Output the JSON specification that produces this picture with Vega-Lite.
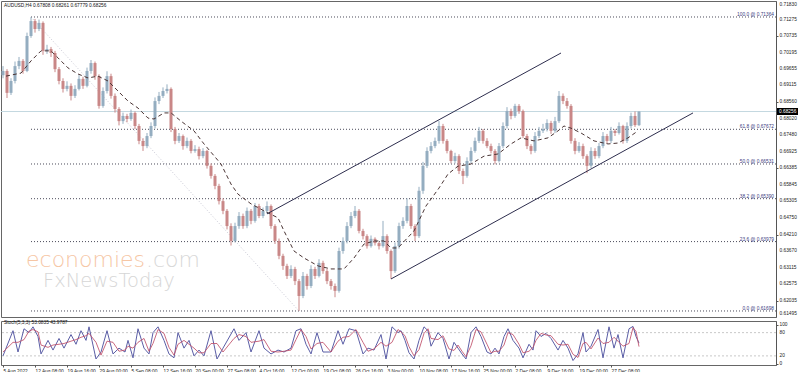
{
"$schema": "https://vega.github.io/schema/vega-lite/v6.json",
"padding": 0,
"background": "#ffffff",
"spacing": 1,
"config": {
  "view": {"stroke": "#666666", "strokeWidth": 1},
  "axis": {"labelFont": "Liberation Sans", "labelFontSize": 4.8, "labelColor": "#222222", "domainColor": "#555555", "tickColor": "#555555", "grid": false, "labelOverlap": false},
  "text": {"font": "Liberation Sans"}
},
"datasets": {
  "candles": [
{"b":0,"o":0.6945,"h":0.6975,"l":0.6935,"c":0.6959},
{"b":4,"o":0.6959,"h":0.6965,"l":0.6870,"c":0.6887},
{"b":8,"o":0.6887,"h":0.6935,"l":0.6880,"c":0.6926},
{"b":12,"o":0.6926,"h":0.6990,"l":0.6918,"c":0.6975},
{"b":16,"o":0.6975,"h":0.7005,"l":0.6965,"c":0.6992},
{"b":20,"o":0.6992,"h":0.6998,"l":0.6950,"c":0.6959},
{"b":24,"o":0.6959,"h":0.7085,"l":0.6955,"c":0.7074},
{"b":28,"o":0.7074,"h":0.7136,"l":0.7068,"c":0.7123},
{"b":32,"o":0.7123,"h":0.7130,"l":0.7085,"c":0.7097},
{"b":36,"o":0.7097,"h":0.7128,"l":0.7090,"c":0.7117},
{"b":40,"o":0.7117,"h":0.7122,"l":0.7012,"c":0.7025},
{"b":44,"o":0.7025,"h":0.7045,"l":0.7015,"c":0.7031},
{"b":48,"o":0.7031,"h":0.7038,"l":0.7005,"c":0.7018},
{"b":52,"o":0.7018,"h":0.7025,"l":0.6955,"c":0.6965},
{"b":56,"o":0.6965,"h":0.6972,"l":0.6915,"c":0.6926},
{"b":60,"o":0.6926,"h":0.6935,"l":0.6888,"c":0.6900},
{"b":64,"o":0.6900,"h":0.6925,"l":0.6892,"c":0.6910},
{"b":68,"o":0.6910,"h":0.6918,"l":0.6862,"c":0.6877},
{"b":72,"o":0.6877,"h":0.6912,"l":0.6870,"c":0.6900},
{"b":76,"o":0.6900,"h":0.6945,"l":0.6895,"c":0.6933},
{"b":80,"o":0.6933,"h":0.6940,"l":0.6900,"c":0.6910},
{"b":84,"o":0.6910,"h":0.6970,"l":0.6905,"c":0.6959},
{"b":88,"o":0.6959,"h":0.6995,"l":0.6950,"c":0.6985},
{"b":92,"o":0.6985,"h":0.6990,"l":0.6930,"c":0.6942},
{"b":96,"o":0.6942,"h":0.6948,"l":0.6835,"c":0.6844},
{"b":100,"o":0.6844,"h":0.6905,"l":0.6838,"c":0.6893},
{"b":104,"o":0.6893,"h":0.6958,"l":0.6885,"c":0.6942},
{"b":108,"o":0.6942,"h":0.6950,"l":0.6868,"c":0.6877},
{"b":112,"o":0.6877,"h":0.6885,"l":0.6822,"c":0.6834},
{"b":116,"o":0.6834,"h":0.6840,"l":0.6780,"c":0.6794},
{"b":120,"o":0.6794,"h":0.6822,"l":0.6785,"c":0.6811},
{"b":124,"o":0.6811,"h":0.6818,"l":0.6790,"c":0.6801},
{"b":128,"o":0.6801,"h":0.6832,"l":0.6795,"c":0.6821},
{"b":132,"o":0.6821,"h":0.6826,"l":0.6768,"c":0.6778},
{"b":136,"o":0.6778,"h":0.6785,"l":0.6718,"c":0.6729},
{"b":140,"o":0.6729,"h":0.6738,"l":0.6696,"c":0.6712},
{"b":144,"o":0.6712,"h":0.6755,"l":0.6705,"c":0.6745},
{"b":148,"o":0.6745,"h":0.6790,"l":0.6738,"c":0.6778},
{"b":152,"o":0.6778,"h":0.6872,"l":0.6770,"c":0.6860},
{"b":156,"o":0.6860,"h":0.6890,"l":0.6850,"c":0.6877},
{"b":160,"o":0.6877,"h":0.6905,"l":0.6870,"c":0.6893},
{"b":164,"o":0.6893,"h":0.6915,"l":0.6885,"c":0.6900},
{"b":168,"o":0.6900,"h":0.6905,"l":0.6758,"c":0.6768},
{"b":172,"o":0.6768,"h":0.6775,"l":0.6718,"c":0.6729},
{"b":176,"o":0.6729,"h":0.6755,"l":0.6722,"c":0.6745},
{"b":180,"o":0.6745,"h":0.6750,"l":0.6700,"c":0.6712},
{"b":184,"o":0.6712,"h":0.6740,"l":0.6705,"c":0.6729},
{"b":188,"o":0.6729,"h":0.6735,"l":0.6688,"c":0.6696},
{"b":192,"o":0.6696,"h":0.6715,"l":0.6690,"c":0.6702},
{"b":196,"o":0.6702,"h":0.6710,"l":0.6668,"c":0.6679},
{"b":200,"o":0.6679,"h":0.6705,"l":0.6672,"c":0.6696},
{"b":204,"o":0.6696,"h":0.6700,"l":0.6638,"c":0.6647},
{"b":208,"o":0.6647,"h":0.6655,"l":0.6605,"c":0.6614},
{"b":212,"o":0.6614,"h":0.6620,"l":0.6570,"c":0.6581},
{"b":216,"o":0.6581,"h":0.6588,"l":0.6520,"c":0.6531},
{"b":220,"o":0.6531,"h":0.6540,"l":0.6488,"c":0.6499},
{"b":224,"o":0.6499,"h":0.6505,"l":0.6438,"c":0.6449},
{"b":228,"o":0.6449,"h":0.6458,"l":0.6385,"c":0.6400},
{"b":232,"o":0.6400,"h":0.6460,"l":0.6395,"c":0.6449},
{"b":236,"o":0.6449,"h":0.6495,"l":0.6440,"c":0.6482},
{"b":240,"o":0.6482,"h":0.6490,"l":0.6440,"c":0.6449},
{"b":244,"o":0.6449,"h":0.6510,"l":0.6442,"c":0.6499},
{"b":248,"o":0.6499,"h":0.6505,"l":0.6455,"c":0.6466},
{"b":252,"o":0.6466,"h":0.6525,"l":0.6460,"c":0.6515},
{"b":256,"o":0.6515,"h":0.6522,"l":0.6475,"c":0.6482},
{"b":260,"o":0.6482,"h":0.6510,"l":0.6475,"c":0.6499},
{"b":264,"o":0.6499,"h":0.6530,"l":0.6490,"c":0.6515},
{"b":268,"o":0.6515,"h":0.6520,"l":0.6440,"c":0.6449},
{"b":272,"o":0.6449,"h":0.6455,"l":0.6390,"c":0.6400},
{"b":276,"o":0.6400,"h":0.6408,"l":0.6340,"c":0.6351},
{"b":280,"o":0.6351,"h":0.6358,"l":0.6305,"c":0.6318},
{"b":284,"o":0.6318,"h":0.6325,"l":0.6275,"c":0.6285},
{"b":288,"o":0.6285,"h":0.6320,"l":0.6278,"c":0.6308},
{"b":292,"o":0.6308,"h":0.6315,"l":0.6255,"c":0.6268},
{"b":296,"o":0.6268,"h":0.6275,"l":0.6170,"c":0.6219},
{"b":300,"o":0.6219,"h":0.6298,"l":0.6212,"c":0.6285},
{"b":304,"o":0.6285,"h":0.6292,"l":0.6240,"c":0.6252},
{"b":308,"o":0.6252,"h":0.6320,"l":0.6245,"c":0.6308},
{"b":312,"o":0.6308,"h":0.6315,"l":0.6275,"c":0.6285},
{"b":316,"o":0.6285,"h":0.6340,"l":0.6280,"c":0.6328},
{"b":320,"o":0.6328,"h":0.6335,"l":0.6292,"c":0.6301},
{"b":324,"o":0.6301,"h":0.6308,"l":0.6258,"c":0.6268},
{"b":328,"o":0.6268,"h":0.6275,"l":0.6240,"c":0.6252},
{"b":332,"o":0.6252,"h":0.6260,"l":0.6215,"c":0.6236},
{"b":336,"o":0.6236,"h":0.6378,"l":0.6230,"c":0.6367},
{"b":340,"o":0.6367,"h":0.6412,"l":0.6358,"c":0.6400},
{"b":344,"o":0.6400,"h":0.6462,"l":0.6392,"c":0.6449},
{"b":348,"o":0.6449,"h":0.6495,"l":0.6442,"c":0.6482},
{"b":352,"o":0.6482,"h":0.6515,"l":0.6475,"c":0.6499},
{"b":356,"o":0.6499,"h":0.6505,"l":0.6425,"c":0.6433},
{"b":360,"o":0.6433,"h":0.6440,"l":0.6405,"c":0.6416},
{"b":364,"o":0.6416,"h":0.6422,"l":0.6375,"c":0.6383},
{"b":368,"o":0.6383,"h":0.6418,"l":0.6378,"c":0.6407},
{"b":372,"o":0.6407,"h":0.6412,"l":0.6385,"c":0.6393},
{"b":376,"o":0.6393,"h":0.6398,"l":0.6372,"c":0.6383},
{"b":380,"o":0.6383,"h":0.6466,"l":0.6378,"c":0.6416},
{"b":384,"o":0.6416,"h":0.6422,"l":0.6358,"c":0.6367},
{"b":388,"o":0.6367,"h":0.6372,"l":0.6275,"c":0.6301},
{"b":392,"o":0.6301,"h":0.6395,"l":0.6295,"c":0.6383},
{"b":396,"o":0.6383,"h":0.6460,"l":0.6375,"c":0.6449},
{"b":400,"o":0.6449,"h":0.6478,"l":0.6440,"c":0.6466},
{"b":404,"o":0.6466,"h":0.6540,"l":0.6458,"c":0.6515},
{"b":408,"o":0.6515,"h":0.6522,"l":0.6440,"c":0.6449},
{"b":412,"o":0.6449,"h":0.6455,"l":0.6400,"c":0.6416},
{"b":416,"o":0.6416,"h":0.6578,"l":0.6410,"c":0.6565},
{"b":420,"o":0.6565,"h":0.6660,"l":0.6555,"c":0.6647},
{"b":424,"o":0.6647,"h":0.6708,"l":0.6640,"c":0.6696},
{"b":428,"o":0.6696,"h":0.6725,"l":0.6688,"c":0.6712},
{"b":432,"o":0.6712,"h":0.6740,"l":0.6705,"c":0.6729},
{"b":436,"o":0.6729,"h":0.6795,"l":0.6720,"c":0.6778},
{"b":440,"o":0.6778,"h":0.6785,"l":0.6720,"c":0.6729},
{"b":444,"o":0.6729,"h":0.6735,"l":0.6688,"c":0.6696},
{"b":448,"o":0.6696,"h":0.6700,"l":0.6655,"c":0.6663},
{"b":452,"o":0.6663,"h":0.6690,"l":0.6655,"c":0.6679},
{"b":456,"o":0.6679,"h":0.6685,"l":0.6620,"c":0.6630},
{"b":460,"o":0.6630,"h":0.6638,"l":0.6587,"c":0.6614},
{"b":464,"o":0.6614,"h":0.6675,"l":0.6608,"c":0.6663},
{"b":468,"o":0.6663,"h":0.6708,"l":0.6655,"c":0.6696},
{"b":472,"o":0.6696,"h":0.6740,"l":0.6690,"c":0.6729},
{"b":476,"o":0.6729,"h":0.6775,"l":0.6722,"c":0.6762},
{"b":480,"o":0.6762,"h":0.6768,"l":0.6720,"c":0.6729},
{"b":484,"o":0.6729,"h":0.6738,"l":0.6705,"c":0.6712},
{"b":488,"o":0.6712,"h":0.6720,"l":0.6688,"c":0.6696},
{"b":492,"o":0.6696,"h":0.6702,"l":0.6652,"c":0.6663},
{"b":496,"o":0.6663,"h":0.6722,"l":0.6658,"c":0.6712},
{"b":500,"o":0.6712,"h":0.6790,"l":0.6705,"c":0.6778},
{"b":504,"o":0.6778,"h":0.6840,"l":0.6770,"c":0.6827},
{"b":508,"o":0.6827,"h":0.6835,"l":0.6800,"c":0.6811},
{"b":512,"o":0.6811,"h":0.6851,"l":0.6805,"c":0.6844},
{"b":516,"o":0.6844,"h":0.6850,"l":0.6818,"c":0.6827},
{"b":520,"o":0.6827,"h":0.6832,"l":0.6738,"c":0.6745},
{"b":524,"o":0.6745,"h":0.6752,"l":0.6702,"c":0.6712},
{"b":528,"o":0.6712,"h":0.6718,"l":0.6685,"c":0.6696},
{"b":532,"o":0.6696,"h":0.6758,"l":0.6690,"c":0.6745},
{"b":536,"o":0.6745,"h":0.6775,"l":0.6738,"c":0.6762},
{"b":540,"o":0.6762,"h":0.6785,"l":0.6755,"c":0.6768},
{"b":544,"o":0.6768,"h":0.6800,"l":0.6760,"c":0.6788},
{"b":548,"o":0.6788,"h":0.6795,"l":0.6752,"c":0.6762},
{"b":552,"o":0.6762,"h":0.6808,"l":0.6755,"c":0.6794},
{"b":556,"o":0.6794,"h":0.6893,"l":0.6788,"c":0.6877},
{"b":560,"o":0.6877,"h":0.6885,"l":0.6850,"c":0.6860},
{"b":564,"o":0.6860,"h":0.6870,"l":0.6835,"c":0.6844},
{"b":568,"o":0.6844,"h":0.6850,"l":0.6720,"c":0.6729},
{"b":572,"o":0.6729,"h":0.6738,"l":0.6685,"c":0.6696},
{"b":576,"o":0.6696,"h":0.6725,"l":0.6690,"c":0.6712},
{"b":580,"o":0.6712,"h":0.6720,"l":0.6670,"c":0.6679},
{"b":584,"o":0.6679,"h":0.6685,"l":0.6623,"c":0.6647},
{"b":588,"o":0.6647,"h":0.6708,"l":0.6640,"c":0.6696},
{"b":592,"o":0.6696,"h":0.6705,"l":0.6670,"c":0.6679},
{"b":596,"o":0.6679,"h":0.6722,"l":0.6672,"c":0.6712},
{"b":600,"o":0.6712,"h":0.6758,"l":0.6705,"c":0.6745},
{"b":604,"o":0.6745,"h":0.6752,"l":0.6720,"c":0.6729},
{"b":608,"o":0.6729,"h":0.6775,"l":0.6722,"c":0.6762},
{"b":612,"o":0.6762,"h":0.6768,"l":0.6745,"c":0.6755},
{"b":616,"o":0.6755,"h":0.6790,"l":0.6750,"c":0.6778},
{"b":620,"o":0.6778,"h":0.6782,"l":0.6720,"c":0.6729},
{"b":624,"o":0.6729,"h":0.6790,"l":0.6722,"c":0.6778},
{"b":628,"o":0.6778,"h":0.6822,"l":0.6770,"c":0.6811},
{"b":632,"o":0.6811,"h":0.6826,"l":0.6775,"c":0.6781},
{"b":636,"o":0.67808,"h":0.68261,"l":0.67779,"c":0.68256}
  ],
  "ma": [
{"b":3,"p":0.6942},{"b":18,"p":0.6952},{"b":28,"p":0.6992},{"b":38,"p":0.7025},{"b":48,"p":0.7025},{"b":55,"p":0.7002},{"b":65,"p":0.6969},{"b":75,"p":0.6949},{"b":85,"p":0.6936},{"b":95,"p":0.6942},{"b":105,"p":0.6926},{"b":115,"p":0.6893},{"b":125,"p":0.6860},{"b":135,"p":0.6837},{"b":145,"p":0.6804},{"b":151,"p":0.6801},{"b":161,"p":0.6821},{"b":168,"p":0.6821},{"b":178,"p":0.6794},{"b":191,"p":0.6762},{"b":201,"p":0.6719},{"b":218,"p":0.6653},{"b":228,"p":0.6587},{"b":235,"p":0.6554},{"b":248,"p":0.6522},{"b":261,"p":0.6499},{"b":275,"p":0.6476},{"b":281,"p":0.6433},{"b":291,"p":0.6367},{"b":301,"p":0.6344},{"b":315,"p":0.6318},{"b":328,"p":0.6308},{"b":341,"p":0.6308},{"b":351,"p":0.6344},{"b":361,"p":0.6390},{"b":371,"p":0.6400},{"b":381,"p":0.6400},{"b":388,"p":0.6377},{"b":395,"p":0.6377},{"b":411,"p":0.6433},{"b":423,"p":0.6515},{"b":436,"p":0.6574},{"b":445,"p":0.6620},{"b":455,"p":0.6646},{"b":468,"p":0.6653},{"b":481,"p":0.6679},{"b":495,"p":0.6686},{"b":508,"p":0.6719},{"b":518,"p":0.6739},{"b":531,"p":0.6729},{"b":545,"p":0.6739},{"b":555,"p":0.6762},{"b":561,"p":0.6778},{"b":568,"p":0.6771},{"b":578,"p":0.6755},{"b":591,"p":0.6729},{"b":605,"p":0.6719},{"b":615,"p":0.6722},{"b":625,"p":0.6739},{"b":635,"p":0.6762}
  ],
  "channels": [
{"ln":"upper","b":264,"p":0.6489},{"ln":"upper","b":558,"p":0.7018},
{"ln":"lower","b":388,"p":0.6275},{"ln":"lower","b":690,"p":0.6821}
  ],
  "fib": [
{"p":0.71364,"label":"100.0 @ 0.71364"},
{"p":0.67672,"label":"61.8 @ 0.67672"},
{"p":0.66531,"label":"50.0 @ 0.66531"},
{"p":0.65390,"label":"38.2 @ 0.65390"},
{"p":0.63979,"label":"23.6 @ 0.63979"},
{"p":0.61698,"label":"0.0 @ 0.61698"}
  ],
  "fibtrend": [{"b":28,"p":0.71364},{"b":296,"p":0.61698}],
  "yticks": [{"v":0.61495},{"v":0.62035},{"v":0.62575},{"v":0.63115},{"v":0.6367},{"v":0.6421},{"v":0.6475},{"v":0.65305},{"v":0.65845},{"v":0.66385},{"v":0.66925},{"v":0.6748},{"v":0.6802},{"v":0.6856},{"v":0.69115},{"v":0.69655},{"v":0.70195},{"v":0.70735},{"v":0.71275},{"v":0.7183}],
  "stochticks": [{"v":0},{"v":20},{"v":80},{"v":100}],
  "stoch": [
{"b":0,"k":20,"d":30},{"b":10,"k":85,"d":55},{"b":15,"k":30,"d":55},{"b":21,"k":90,"d":62},{"b":26,"k":80,"d":84},{"b":30,"k":95,"d":88},{"b":35,"k":70,"d":82},{"b":38,"k":25,"d":48},{"b":45,"k":60,"d":42},{"b":50,"k":35,"d":48},{"b":56,"k":65,"d":50},{"b":61,"k":40,"d":52},{"b":68,"k":75,"d":58},{"b":73,"k":50,"d":62},{"b":78,"k":85,"d":68},{"b":83,"k":60,"d":72},{"b":86,"k":95,"d":78},{"b":93,"k":12,"d":55},{"b":98,"k":30,"d":22},{"b":104,"k":85,"d":58},{"b":110,"k":25,"d":55},{"b":116,"k":40,"d":32},{"b":122,"k":30,"d":35},{"b":125,"k":60,"d":45},{"b":130,"k":15,"d":40},{"b":135,"k":90,"d":55},{"b":141,"k":40,"d":65},{"b":146,"k":25,"d":32},{"b":150,"k":80,"d":52},{"b":155,"k":95,"d":88},{"b":161,"k":60,"d":78},{"b":166,"k":25,"d":42},{"b":171,"k":15,"d":22},{"b":175,"k":80,"d":50},{"b":181,"k":40,"d":60},{"b":186,"k":60,"d":50},{"b":191,"k":20,"d":40},{"b":196,"k":35,"d":28},{"b":201,"k":20,"d":28},{"b":208,"k":85,"d":52},{"b":214,"k":12,"d":52},{"b":220,"k":40,"d":30},{"b":231,"k":90,"d":65},{"b":236,"k":60,"d":75},{"b":243,"k":80,"d":70},{"b":248,"k":30,"d":55},{"b":256,"k":85,"d":58},{"b":261,"k":40,"d":62},{"b":268,"k":25,"d":32},{"b":275,"k":35,"d":30},{"b":281,"k":30,"d":32},{"b":288,"k":40,"d":35},{"b":293,"k":85,"d":62},{"b":298,"k":90,"d":88},{"b":303,"k":50,"d":70},{"b":308,"k":25,"d":38},{"b":314,"k":80,"d":52},{"b":320,"k":30,"d":55},{"b":328,"k":30,"d":30},{"b":335,"k":85,"d":58},{"b":340,"k":50,"d":68},{"b":346,"k":90,"d":70},{"b":353,"k":85,"d":88},{"b":360,"k":25,"d":55},{"b":365,"k":40,"d":32},{"b":371,"k":35,"d":38},{"b":378,"k":75,"d":55},{"b":383,"k":12,"d":45},{"b":389,"k":95,"d":55},{"b":395,"k":80,"d":88},{"b":398,"k":85,"d":82},{"b":402,"k":60,"d":72},{"b":406,"k":28,"d":44},{"b":411,"k":12,"d":20},{"b":416,"k":60,"d":36},{"b":421,"k":95,"d":78},{"b":425,"k":85,"d":90},{"b":428,"k":45,"d":65},{"b":435,"k":80,"d":62},{"b":440,"k":65,"d":72},{"b":446,"k":12,"d":38},{"b":451,"k":55,"d":34},{"b":455,"k":40,"d":48},{"b":459,"k":25,"d":32},{"b":463,"k":12,"d":18},{"b":468,"k":80,"d":46},{"b":473,"k":95,"d":88},{"b":478,"k":70,"d":82},{"b":484,"k":30,"d":50},{"b":488,"k":25,"d":28},{"b":492,"k":40,"d":32},{"b":496,"k":25,"d":32},{"b":501,"k":70,"d":48},{"b":505,"k":90,"d":80},{"b":510,"k":60,"d":75},{"b":516,"k":40,"d":50},{"b":520,"k":15,"d":28},{"b":526,"k":50,"d":32},{"b":530,"k":35,"d":42},{"b":533,"k":85,"d":60},{"b":538,"k":70,"d":78},{"b":543,"k":78,"d":74},{"b":548,"k":65,"d":72},{"b":555,"k":35,"d":50},{"b":560,"k":60,"d":48},{"b":565,"k":40,"d":50},{"b":570,"k":8,"d":24},{"b":575,"k":25,"d":16},{"b":580,"k":80,"d":52},{"b":583,"k":30,"d":55},{"b":588,"k":45,"d":38},{"b":595,"k":88,"d":66},{"b":600,"k":15,"d":52},{"b":606,"k":95,"d":55},{"b":611,"k":40,"d":68},{"b":615,"k":75,"d":58},{"b":620,"k":15,"d":45},{"b":626,"k":90,"d":52},{"b":630,"k":96,"d":93},{"b":633,"k":70,"d":83},{"b":636,"k":53,"d":44}
  ],
  "levels": [{"lv":20},{"lv":80}],
  "one": [{"id":1}]
},
"vconcat": [
{
  "width": 775,
  "height": 316,
  "layer": [
    {
      "data": {"name": "one"},
      "mark": {"type": "rule", "color": "#c4d8e0", "strokeWidth": 1},
      "encoding": {"y": {"datum": 0.68256, "type": "quantitative"}}
    },
    {
      "data": {"name": "fibtrend"},
      "mark": {"type": "line", "color": "#c8c8d4", "strokeWidth": 1, "strokeDash": [1, 2]},
      "encoding": {
        "x": {"field": "b", "type": "quantitative", "axis": null},
        "y": {"field": "p", "type": "quantitative"}
      }
    },
    {
      "data": {"name": "one"},
      "mark": {"type": "text", "font": "DejaVu Sans", "fontWeight": 200, "fontSize": 22, "color": "#f6c6a4", "align": "left", "baseline": "alphabetic"},
      "encoding": {
        "x": {"datum": 23, "type": "quantitative", "axis": null},
        "y": {"datum": 0.6315, "type": "quantitative"},
        "text": {"value": "economies"}
      }
    },
    {
      "data": {"name": "one"},
      "mark": {"type": "text", "font": "DejaVu Sans", "fontWeight": 200, "fontSize": 22, "color": "#d8d8d8", "align": "left", "baseline": "alphabetic"},
      "encoding": {
        "x": {"datum": 143, "type": "quantitative", "axis": null},
        "y": {"datum": 0.6315, "type": "quantitative"},
        "text": {"value": ".com"}
      }
    },
    {
      "data": {"name": "one"},
      "mark": {"type": "text", "font": "DejaVu Sans", "fontWeight": 200, "fontSize": 19.5, "color": "#d6d6d6", "align": "left", "baseline": "alphabetic"},
      "encoding": {
        "x": {"datum": 40, "type": "quantitative", "axis": null},
        "y": {"datum": 0.6249, "type": "quantitative"},
        "text": {"value": "FxNewsToday"}
      }
    },
    {
      "data": {"name": "fib"},
      "mark": {"type": "rule", "color": "#4a4a5a", "strokeWidth": 1, "strokeDash": [1, 2]},
      "encoding": {
        "x": {"datum": 28, "type": "quantitative", "axis": null},
        "x2": {"datum": 773},
        "y": {"field": "p", "type": "quantitative"}
      }
    },
    {
      "data": {"name": "fib"},
      "mark": {"type": "text", "fontSize": 4.8, "color": "#3a3a80", "align": "right", "baseline": "middle", "dy": -2},
      "encoding": {
        "x": {"datum": 771, "type": "quantitative", "axis": null},
        "y": {"field": "p", "type": "quantitative"},
        "text": {"field": "label"}
      }
    },
    {
      "data": {"name": "candles"},
      "mark": {"type": "rule", "strokeWidth": 1},
      "encoding": {
        "x": {"field": "b", "type": "quantitative", "axis": null, "scale": {"domain": [-2, 773], "nice": false, "zero": false}},
        "y": {"field": "l", "type": "quantitative", "title": null,
              "scale": {"domain": [0.6150, 0.7189], "nice": false, "zero": false},
              "axis": {"orient": "right", "values": [0.62035,0.62575,0.63115,0.6367,0.6421,0.6475,0.65305,0.65845,0.66385,0.66925,0.6748,0.6802,0.6856,0.69115,0.69655,0.70195,0.70735,0.71275,0.7183], "labels": false, "tickSize": 2, "title": null}},
        "y2": {"field": "h"},
        "color": {"condition": {"test": "datum.c >= datum.o", "value": "#94adc0"}, "value": "#c98787"}
      }
    },
    {
      "data": {"name": "candles"},
      "mark": {"type": "rule", "strokeWidth": 3},
      "encoding": {
        "x": {"field": "b", "type": "quantitative", "axis": null},
        "y": {"field": "o", "type": "quantitative"},
        "y2": {"field": "c"},
        "color": {"condition": {"test": "datum.c >= datum.o", "value": "#94adc0"}, "value": "#c98787"}
      }
    },
    {
      "data": {"name": "ma"},
      "mark": {"type": "line", "color": "#4a3434", "strokeWidth": 1, "strokeDash": [4, 3]},
      "encoding": {
        "x": {"field": "b", "type": "quantitative", "axis": null},
        "y": {"field": "p", "type": "quantitative"}
      }
    },
    {
      "data": {"name": "channels"},
      "mark": {"type": "line", "color": "#2e2e4e", "strokeWidth": 1},
      "encoding": {
        "x": {"field": "b", "type": "quantitative", "axis": null},
        "y": {"field": "p", "type": "quantitative"},
        "detail": {"field": "ln"}
      }
    },
    {
      "data": {"name": "yticks"},
      "transform": [{"filter": "datum.v > 0.615 && datum.v < 0.718"}],
      "mark": {"type": "text", "fontSize": 4.8, "color": "#222222", "align": "left", "baseline": "middle"},
      "encoding": {
        "x": {"datum": 776.5, "type": "quantitative", "axis": null},
        "y": {"field": "v", "type": "quantitative"},
        "text": {"field": "v", "type": "quantitative", "format": ".5f"}
      }
    },
    {
      "data": {"name": "yticks"},
      "transform": [{"filter": "datum.v > 0.718"}],
      "mark": {"type": "text", "fontSize": 4.8, "color": "#222222", "align": "left", "baseline": "top", "dy": -1},
      "encoding": {
        "x": {"datum": 776.5, "type": "quantitative", "axis": null},
        "y": {"field": "v", "type": "quantitative"},
        "text": {"field": "v", "type": "quantitative", "format": ".5f"}
      }
    },
    {
      "data": {"name": "yticks"},
      "transform": [{"filter": "datum.v < 0.615"}],
      "mark": {"type": "text", "fontSize": 4.8, "color": "#222222", "align": "left", "baseline": "bottom", "dy": -1},
      "encoding": {
        "x": {"datum": 776.5, "type": "quantitative", "axis": null},
        "y": {"field": "v", "type": "quantitative"},
        "text": {"field": "v", "type": "quantitative", "format": ".5f"}
      }
    },
    {
      "data": {"name": "one"},
      "mark": {"type": "text", "fontSize": 4.8, "color": "#111111", "align": "left", "baseline": "middle"},
      "encoding": {
        "x": {"datum": 1, "type": "quantitative", "axis": null},
        "y": {"datum": 0.7174, "type": "quantitative"},
        "text": {"value": "AUDUSD,H4  0.67808 0.68261 0.67779 0.68256"}
      }
    },
    {
      "data": {"name": "one"},
      "mark": {"type": "rule", "color": "#000000", "strokeWidth": 7},
      "encoding": {
        "x": {"datum": 774, "type": "quantitative", "axis": null},
        "x2": {"datum": 795},
        "y": {"datum": 0.68256, "type": "quantitative"}
      }
    },
    {
      "data": {"name": "one"},
      "mark": {"type": "text", "fontSize": 4.8, "color": "#ffffff", "align": "left", "baseline": "middle"},
      "encoding": {
        "x": {"datum": 776, "type": "quantitative", "axis": null},
        "y": {"datum": 0.68256, "type": "quantitative"},
        "text": {"value": "0.68256"}
      }
    }
  ]
},
{
  "width": 775,
  "height": 44,
  "layer": [
    {
      "data": {"name": "levels"},
      "mark": {"type": "rule", "color": "#c8c8c8", "strokeWidth": 1, "strokeDash": [2, 2]},
      "encoding": {"y": {"field": "lv", "type": "quantitative"}}
    },
    {
      "data": {"name": "stoch"},
      "mark": {"type": "line", "color": "#5b5ea6", "strokeWidth": 1},
      "encoding": {
        "x": {"field": "b", "type": "quantitative", "title": null,
              "scale": {"domain": [-2, 773], "nice": false, "zero": false},
              "axis": {"values": [0,32,64,96,128,160,192,224,256,288,320,352,384,416,448,480,512,544,576,608],
                       "labelExpr": "['5 Aug 2022','12 Aug 08:00','19 Aug 16:00','29 Aug 00:00','5 Sep 08:00','12 Sep 16:00','20 Sep 00:00','27 Sep 08:00','4 Oct 16:00','12 Oct 00:00','19 Oct 08:00','26 Oct 16:00','3 Nov 00:00','10 Nov 08:00','17 Nov 16:00','25 Nov 00:00','2 Dec 08:00','9 Dec 16:00','19 Dec 00:00','27 Dec 08:00'][round(datum.value/32)]",
                       "labelAlign": "left", "labelOverlap": false, "labelBound": false, "tickSize": 2, "labelPadding": 1, "domain": false, "title": null}},
        "y": {"field": "k", "type": "quantitative", "title": null,
              "scale": {"domain": [-3.5, 110], "nice": false, "zero": false},
              "axis": {"orient": "right", "values": [0, 20, 80, 100], "labels": false, "tickSize": 2, "title": null}}
      }
    },
    {
      "data": {"name": "stoch"},
      "mark": {"type": "line", "color": "#c0506a", "strokeWidth": 1, "opacity": 0.85},
      "encoding": {
        "x": {"field": "b", "type": "quantitative"},
        "y": {"field": "d", "type": "quantitative"}
      }
    },
    {
      "data": {"name": "stochticks"},
      "mark": {"type": "text", "fontSize": 4.8, "color": "#222222", "align": "left", "baseline": "middle"},
      "encoding": {
        "x": {"datum": 776.5, "type": "quantitative"},
        "y": {"field": "v", "type": "quantitative"},
        "text": {"field": "v", "type": "quantitative", "format": "d"}
      }
    },
    {
      "data": {"name": "one"},
      "mark": {"type": "text", "fontSize": 4.8, "color": "#111111", "align": "left", "baseline": "middle"},
      "encoding": {
        "x": {"datum": 1, "type": "quantitative"},
        "y": {"datum": 104, "type": "quantitative"},
        "text": {"value": "Stoch(5,3,3) 53.0835 43.9787"}
      }
    }
  ]
}
]
}
